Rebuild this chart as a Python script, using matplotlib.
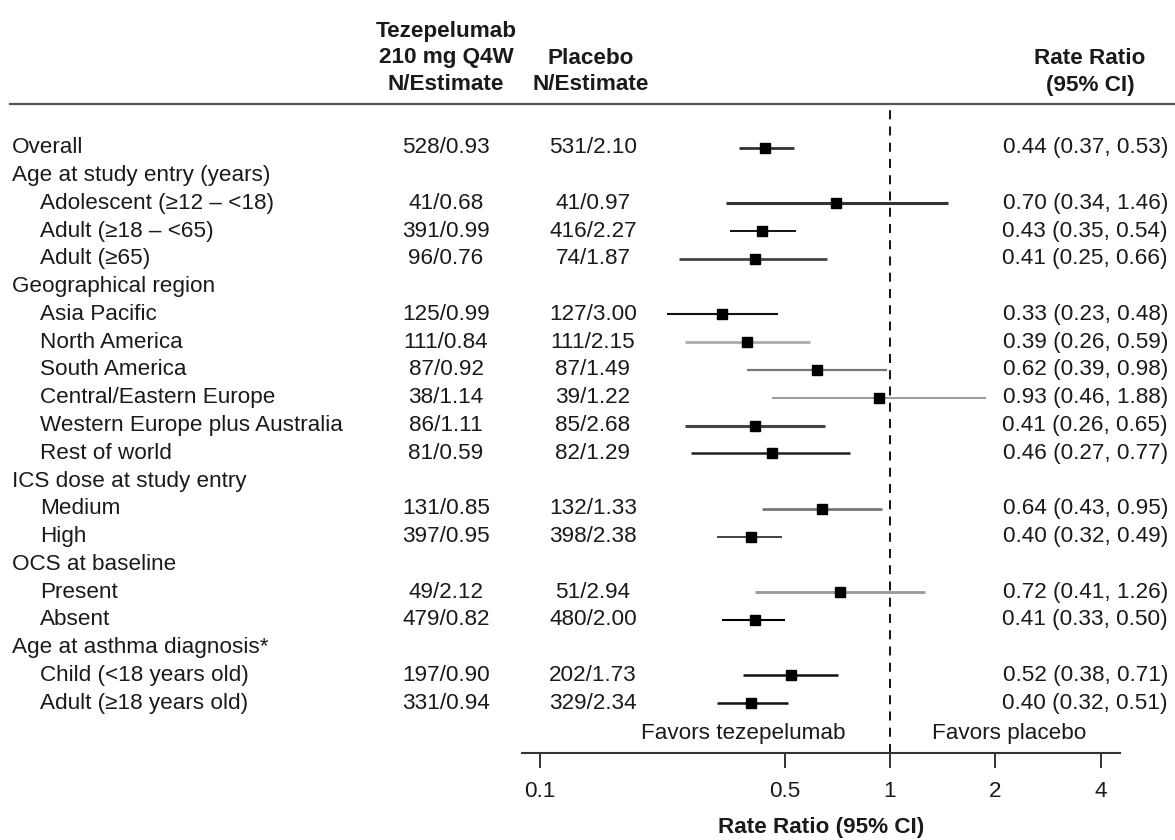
import matplotlib.pyplot as plt
from matplotlib.lines import Line2D
from matplotlib.transforms import blended_transform_factory
import numpy as np

plt.rcParams['font.family'] = ['Liberation Sans', 'DejaVu Sans']

# rows of the forest plot (None = group heading)
labels = ['Overall', 'Age at study entry (years)', 'Adolescent (≥12 – <18)',
          'Adult (≥18 – <65)', 'Adult (≥65)', 'Geographical region',
          'Asia Pacific', 'North America', 'South America',
          'Central/Eastern Europe', 'Western Europe plus Australia',
          'Rest of world', 'ICS dose at study entry', 'Medium', 'High',
          'OCS at baseline', 'Present', 'Absent',
          'Age at asthma diagnosis*', 'Child (<18 years old)',
          'Adult (≥18 years old)']
indent = [0, 0, 1, 1, 1, 0, 1, 1, 1, 1, 1, 1, 0, 1, 1, 0, 1, 1, 0, 1, 1]
teze = ['528/0.93', None, '41/0.68', '391/0.99', '96/0.76', None,
        '125/0.99', '111/0.84', '87/0.92', '38/1.14', '86/1.11', '81/0.59',
        None, '131/0.85', '397/0.95', None, '49/2.12', '479/0.82', None,
        '197/0.90', '331/0.94']
placebo = ['531/2.10', None, '41/0.97', '416/2.27', '74/1.87', None,
           '127/3.00', '111/2.15', '87/1.49', '39/1.22', '85/2.68', '82/1.29',
           None, '132/1.33', '398/2.38', None, '51/2.94', '480/2.00', None,
           '202/1.73', '329/2.34']
rr = [0.44, None, 0.70, 0.43, 0.41, None, 0.33, 0.39, 0.62, 0.93, 0.41, 0.46,
      None, 0.64, 0.40, None, 0.72, 0.41, None, 0.52, 0.40]
lo = [0.37, None, 0.34, 0.35, 0.25, None, 0.23, 0.26, 0.39, 0.46, 0.26, 0.27,
      None, 0.43, 0.32, None, 0.41, 0.33, None, 0.38, 0.32]
hi = [0.53, None, 1.46, 0.54, 0.66, None, 0.48, 0.59, 0.98, 1.88, 0.65, 0.77,
      None, 0.95, 0.49, None, 1.26, 0.50, None, 0.71, 0.51]

# line look of each CI (the original has mixed greys / widths)
ci_col = ['#333', None, '#333', '#000', '#444', None, '#111', '#aaa', '#777',
          '#888', '#444', '#222', None, '#777', '#222', None, '#999', '#000',
          None, '#111', '#111']
ci_lw = [2, 0, 2.2, 1.3, 2, 0, 1.5, 2, 1.6, 1.2, 2.2, 1.8, 0, 2, 1.2, 0, 2,
         1.5, 0, 1.8, 1.8]

W, H = 1175, 840
fs = 16.2
tc = '#1a1a1a'

fig = plt.figure(figsize=(W / 100, H / 100), dpi=100)

# forest axes: x 522..1120 px, y 103..753 px
ax = fig.add_axes([522 / W, 1 - 753 / H, (1120 - 522) / W, (753 - 103) / H])
ax.set_xscale('log')
ax.set_xlim(0.0888, 4.54)
n = len(labels)
ax.set_ylim(n - 1 + 1.80, -1.62)

for i in range(n):
    if rr[i] is None:
        continue
    ax.plot([lo[i], hi[i]], [i, i], color=ci_col[i], lw=ci_lw[i],
            solid_capstyle='butt', zorder=2)
    ax.plot(rr[i], i, 's', color='black', ms=7.5, zorder=3)

ax.axvline(1, color='black', lw=1.3, ls=(0, (5, 4)), zorder=1)

for s in ['top', 'right', 'left']:
    ax.spines[s].set_visible(False)
ax.spines['bottom'].set_color('#333')
ax.spines['bottom'].set_linewidth(1.5)
ax.set_yticks([])
ax.set_xticks([0.1, 0.5, 1, 2, 4])
ax.set_xticklabels(['0.1', '0.5', '1', '2', '4'])
ax.xaxis.set_minor_locator(plt.NullLocator())
ax.tick_params(axis='x', direction='out', length=11, width=1.4, color='#333',
               labelsize=fs, labelcolor=tc, pad=9)
ax.set_xlabel('Rate Ratio (95% CI)', fontsize=fs, fontweight='bold',
              color=tc, labelpad=11)

# favors labels
ax.annotate('Favors tezepelumab', (1, n - 1 + 1.08), xytext=(-32, 0),
            textcoords='offset points', ha='right', va='center',
            fontsize=fs, color=tc)
ax.annotate('Favors placebo', (1, n - 1 + 1.08), xytext=(30, 0),
            textcoords='offset points', ha='left', va='center',
            fontsize=fs, color=tc)

# text columns
tr = blended_transform_factory(fig.transFigure, ax.transData)
for i in range(n):
    x0 = (12 if indent[i] == 0 else 40) / W
    ax.text(x0, i, labels[i], transform=tr, ha='left', va='center',
            fontsize=fs, color=tc, clip_on=False)
    if teze[i] is not None:
        ax.text(446 / W, i, teze[i], transform=tr, ha='center', va='center',
                fontsize=fs, color=tc, clip_on=False)
        ax.text(593 / W, i, placebo[i], transform=tr, ha='center',
                va='center', fontsize=fs, color=tc, clip_on=False)
        ax.text(1168 / W, i, '%.2f (%.2f, %.2f)' % (rr[i], lo[i], hi[i]),
                transform=tr, ha='right', va='center', fontsize=fs,
                color=tc, clip_on=False)

# column headers
def head(x, y, s):
    fig.text(x / W, 1 - y / H, s, ha='center', va='center', fontsize=fs,
             fontweight='bold', color=tc)

head(446, 31, 'Tezepelumab')
head(446, 58, '210 mg Q4W')
head(446, 85, 'N/Estimate')
head(591, 58, 'Placebo')
head(591, 85, 'N/Estimate')
head(1090, 58, 'Rate Ratio')
head(1090, 86, '(95% CI)')

fig.add_artist(Line2D([10 / W, 1], [1 - 104 / H, 1 - 104 / H],
                      transform=fig.transFigure, color='#555', lw=1.6))

fig.savefig('out.png', dpi=100)
